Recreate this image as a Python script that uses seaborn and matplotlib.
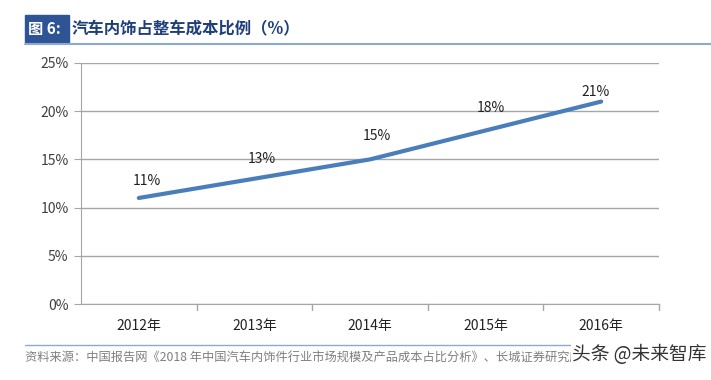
import matplotlib
matplotlib.use("Agg")
import matplotlib.pyplot as plt
import seaborn as sns
import pandas as pd
from matplotlib.patches import Rectangle
from matplotlib.lines import Line2D

years = ["2012年", "2013年", "2014年", "2015年", "2016年"]
share = [11, 13, 15, 18, 21]
yticks = [0, 5, 10, 15, 20, 25]
# label offsets in points (dx, dy) as placed in the original chart
label_offsets = [(6, 12), (5, 14), (5, 17), (4, 16), (-4, 7)]

sns.set_style("white")
plt.rcParams["font.family"] = ["Noto Sans CJK SC", "DejaVu Sans"]

df = pd.DataFrame({"pos": range(len(years)), "share": share})

fig = plt.figure(figsize=(7.11, 3.8), dpi=100)
ax = fig.add_axes([81 / 711, 1 - 304 / 380, 578 / 711, 241 / 380])

sns.lineplot(data=df, x="pos", y="share", ax=ax, color="#4A7EBB", linewidth=3, zorder=3)

for i, v in enumerate(share):
    dx, dy = label_offsets[i]
    ax.annotate(f"{v}%", (i, v), xytext=(dx, dy), textcoords="offset points",
                ha="center", va="center", fontsize=10, color="#222222")

ax.set_xlim(-0.5, len(years) - 0.5)
ax.set_ylim(0, 25)
ax.set_yticks(yticks)
ax.set_yticklabels([f"{t}%" for t in yticks], fontsize=10, color="#404040")
ax.set_xticks(range(len(years)))
ax.set_xticklabels(years, fontsize=10, color="#222222")
ax.tick_params(axis="x", length=0, pad=11)
ax.tick_params(axis="y", length=5, color="#A6A6A6", pad=4, direction="out", left=True)
ax.set_xlabel("")
ax.set_ylabel("")
ax.grid(axis="y", color="#A6A6A6", linewidth=1)
ax.set_axisbelow(True)
for s in ["top", "right"]:
    ax.spines[s].set_visible(False)
ax.spines["left"].set_color("#A6A6A6")
ax.spines["bottom"].set_color("#A6A6A6")

# category separator ticks on the x axis
for b in [0.5, 1.5, 2.5, 3.5, 4.5]:
    ax.plot([b, b], [0, -0.6], color="#A6A6A6", linewidth=1, clip_on=False)

# header
fig.patches.append(Rectangle((25 / 711, 1 - 42 / 380), 44 / 711, 27 / 380,
                             transform=fig.transFigure, color="#2F5496", zorder=1))
fig.text(28 / 711, 1 - 29 / 380, "图 6:", color="white", fontsize=11, fontweight="bold",
         va="center", ha="left")
fig.text(72 / 711, 1 - 29 / 380, "汽车内饰占整车成本比例（%）", color="#1F3F7A", fontsize=11.8,
         fontweight="bold", va="center", ha="left")
fig.lines.append(Line2D([25 / 711, 1.0], [1 - 43.5 / 380, 1 - 43.5 / 380],
                        transform=fig.transFigure, color="#8EA9D0", linewidth=1.5))

# footer
fig.lines.append(Line2D([25 / 711, 688 / 711], [1 - 345 / 380, 1 - 345 / 380],
                        transform=fig.transFigure, color="#8EA9D0", linewidth=1))
fig.text(25 / 711, 1 - 358 / 380,
         "资料来源：中国报告网《2018 年中国汽车内饰件行业市场规模及产品成本占比分析》、长城证券研究所",
         color="#7F7F7F", fontsize=8.8, va="center", ha="left")
fig.text(706 / 711, 1 - 355 / 380, "头条 @未来智库", color="#333333", fontsize=13.5,
         va="center", ha="right",
         bbox=dict(facecolor="white", edgecolor="none", pad=0.5))

fig.savefig("out.png", dpi=100)
